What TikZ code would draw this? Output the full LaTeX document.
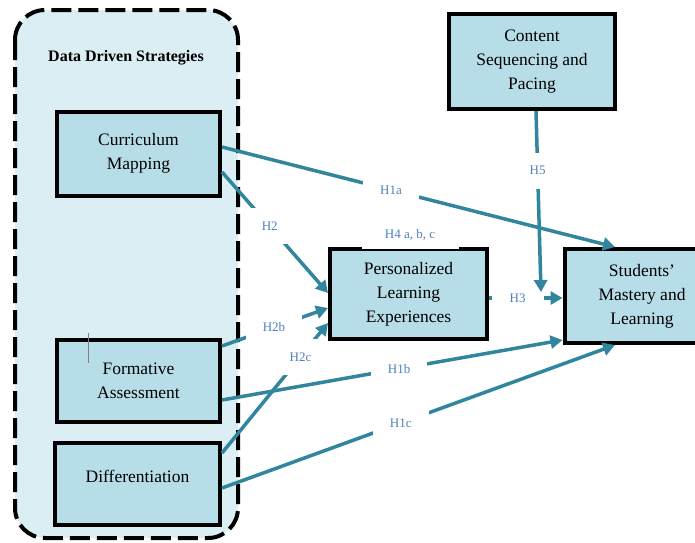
\documentclass[tikz,border=0pt]{standalone}
\usepackage{fontspec}
\setmainfont{Liberation Serif}
\usetikzlibrary{arrows.meta,positioning}

\definecolor{boxblue}{HTML}{B7DEE8}
\definecolor{groupblue}{HTML}{DAEEF3}
\definecolor{linkteal}{HTML}{31859C}
\definecolor{hypblue}{HTML}{4F81BD}

\begin{document}
\begin{tikzpicture}[
            x=1pt, y=-1pt,
            construct/.style={rectangle, draw, line width=4pt, fill=boxblue, align=center, font=\fontsize{17.5}{24}\selectfont, inner sep=2pt},
            arrow/.style={-{Triangle[length=12pt,width=13pt]}, line width=3.5pt, draw=linkteal},
            hyp/.style={fill=white, text=hypblue, font=\fontsize{13}{15}\selectfont, minimum width=56pt, minimum height=36pt, inner sep=0pt}
        ]
            \useasboundingbox (0,0) rectangle (695,542);

            % Strategy group
            \draw[line width=4pt, dash pattern=on 20pt off 7pt, fill=groupblue, rounded corners=30pt] (15,10) rectangle (238,538);
            \node[font=\fontsize{16}{19}\selectfont\bfseries] (title) at (126,58) {Data Driven Strategies};

            % Main components
            \node[construct, minimum width=163pt, minimum height=84pt, text depth=6pt] (curr) at (138.5,154) {Curriculum\\Mapping};
            \node[construct, minimum width=163pt, minimum height=82pt] (form) at (138.5,381) {Formative\\Assessment};
            \node[construct, minimum width=165pt, minimum height=82pt, text depth=16pt] (diff) at (137.5,484) {Differentiation};
            \node[construct, minimum width=166pt, minimum height=95pt] (content) at (532,61.5) {Content\\Sequencing and\\Pacing};
            \node[construct, minimum width=157pt, minimum height=90pt] (ple) at (408.5,294) {Personalized\\Learning\\Experiences};
            \node[construct, minimum width=155pt, minimum height=94pt] (mastery) at (642,296) {Students’\\Mastery and\\Learning};
            \draw[line width=1pt, draw=gray] (88,333) -- (88,363);

            % Arrows
            \draw[arrow] (curr.east |- 0,147) -- node[hyp, pos=0.43] {H1a} (615,0 |- mastery.north);
            \draw[arrow] (curr.east |- 0,172) -- node[hyp, pos=0.45] {H2} (ple.west |- 0,293);
            \draw[arrow] (form.east |- 0,346) -- node[hyp, pos=0.49] {H2b} (ple.west |- 0,308);
            \draw[arrow] (diff.east |- 0,453) -- node[hyp, pos=0.74] {H2c} (ple.west |- 0,323);
            \draw[arrow] (form.east |- 0,400) -- node[hyp, pos=0.52] {H1b} (mastery.west |- 0,340);
            \draw[arrow] (diff.east |- 0,488) -- node[hyp, pos=0.455] {H1c} (615,0 |- mastery.south);
            \draw[arrow] (ple.east |- 0,298) -- node[hyp, pos=0.39, minimum width=52pt] {H3} (mastery.west |- 0,298);
            \coordinate (h5end) at (541,292);
            \draw[arrow] (content.south -| 536,0) -- node[hyp, pos=0.33] {H5} (h5end);

            % Mediation label
            \node[hyp, minimum width=97pt, minimum height=28pt, anchor=south] (h4) at (410,249) {H4 a, b, c};
        \end{tikzpicture}
\end{document}
